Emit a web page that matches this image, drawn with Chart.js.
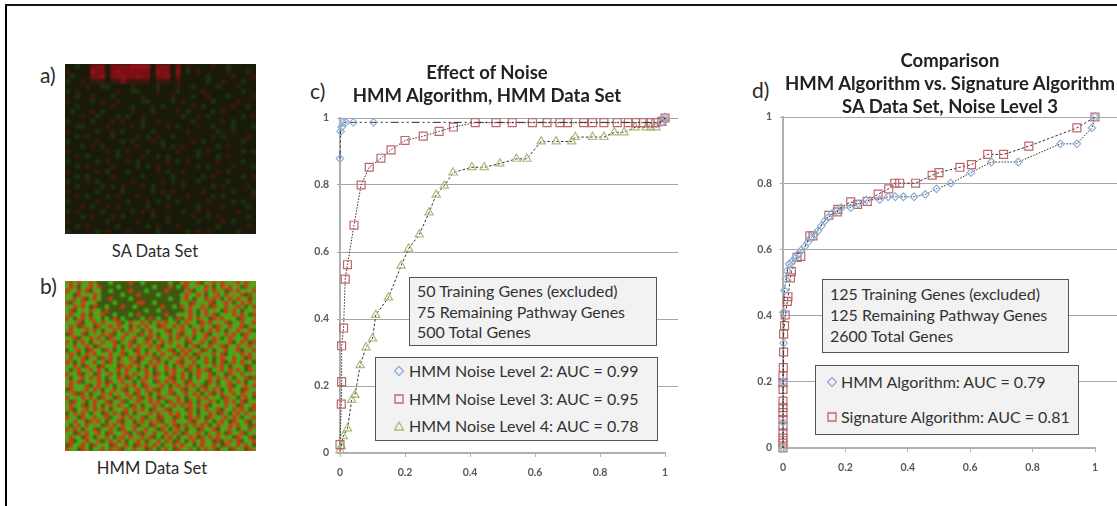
<!DOCTYPE html>
<html>
<head>
<meta charset="utf-8">
<script src="https://cdn.jsdelivr.net/npm/chart.js@4"></script>
<style>
  body { margin: 0; background: #fff; font-family: Lato, sans-serif; color: #2b2b2b; }
  #page { position: relative; width: 1117px; height: 506px; overflow: hidden; }
  #page > * { position: absolute; }
  canvas { display: block; }
  .line-left { left: 5px; top: 4px; width: 2px; height: 502px; background: #000; }
  .line-top { left: 5px; top: 4px; width: 1112px; height: 2px; background: #111; }
  .tag { font-size: 21px; line-height: 20px; }
  .cap { font-size: 16.6px; line-height: 20px; transform: translateX(-50%); white-space: nowrap; }
  .title { font-size: 18.5px; font-weight: 700; text-align: center; white-space: nowrap; transform: translateX(-50%); color: #222; }
  .box { box-sizing: border-box; background: #f2f2f2; border: 1.5px solid #555; }
  .row { position: absolute; white-space: nowrap; font-size: 16px; line-height: 20px; color: #333; }
  .box svg { position: absolute; }
  .heat { width: 191px; height: 170px; overflow: hidden; }
</style>
</head>
<body>
<div id="page">
  <div class="line-left"></div>
  <div class="line-top"></div>

  <div class="tag" style="left:40px;top:65px">a)</div>
  <div class="tag" style="left:40px;top:276px">b)</div>
  <div class="tag" style="left:310px;top:81px">c)</div>
  <div class="tag" style="left:752px;top:80px">d)</div>

  <div class="heat" style="left:65px;top:64px;background:#1a1a0a"><canvas id="heatA" style="filter:blur(1px)"></canvas></div>
  <div class="heat" style="left:65px;top:281px;background:#6f7f18"><canvas id="heatB" style="filter:blur(0.8px)"></canvas></div>
  <div class="cap" style="left:155px;top:241px">SA Data Set</div>
  <div class="cap" style="left:152px;top:458px">HMM Data Set</div>

  <canvas id="chartC" style="left:300px;top:100px"></canvas>
  <canvas id="chartD" style="left:745px;top:100px"></canvas>

  <div class="title" style="left:487px;top:61px;line-height:23px">Effect of Noise<br>HMM Algorithm, HMM Data Set</div>
  <div class="title" style="left:950px;top:49px;line-height:23px">Comparison<br>HMM Algorithm vs. Signature Algorithm<br>SA Data Set, Noise Level 3</div>

  <div class="box" id="infoC" style="left:409px;top:277px;width:248px;height:69px"></div>
  <div class="box" id="legendC" style="left:375px;top:357px;width:283px;height:84px"></div>
  <div class="box" id="infoD" style="left:822px;top:279px;width:247px;height:74px"></div>
  <div class="box" id="legendD" style="left:815px;top:365px;width:264px;height:70px"></div>
</div>

<script>
// ROC values
const noise2X = [0, 0.002, 0.005, 0.01, 0.018, 0.041, 0.103, 0.99, 1];
const noise2Y = [0.879, 0.96, 0.973, 0.987, 0.987, 0.987, 0.987, 0.987, 1];
const noise3X = [0, 0.004, 0.005, 0.005, 0.011, 0.016, 0.023, 0.043, 0.065, 0.09, 0.126, 0.157, 0.2, 0.256, 0.305, 0.349, 0.416, 0.48, 0.53, 0.592, 0.637, 0.677, 0.70, 0.75, 0.777, 0.812, 0.853, 0.887, 0.91, 0.933, 0.954, 0.972, 0.99, 1];
const noise3Y = [0.025, 0.146, 0.213, 0.32, 0.373, 0.519, 0.562, 0.68, 0.80, 0.853, 0.88, 0.905, 0.933, 0.946, 0.96, 0.973, 0.986, 0.986, 0.986, 0.986, 0.986, 0.986, 0.986, 0.986, 0.986, 0.986, 0.986, 0.986, 0.986, 0.986, 0.986, 0.986, 0.99, 1];
const noise4X = [0, 0.004, 0.01, 0.023, 0.036, 0.046, 0.062, 0.08, 0.1, 0.11, 0.149, 0.188, 0.211, 0.244, 0.274, 0.296, 0.321, 0.348, 0.406, 0.444, 0.492, 0.543, 0.575, 0.619, 0.665, 0.713, 0.724, 0.777, 0.812, 0.844, 0.874, 0.908, 0.942, 0.956, 0.972, 0.99, 1];
const noise4Y = [0.008, 0.02, 0.05, 0.073, 0.158, 0.173, 0.262, 0.315, 0.342, 0.412, 0.464, 0.559, 0.61, 0.652, 0.718, 0.771, 0.798, 0.837, 0.853, 0.853, 0.864, 0.878, 0.878, 0.93, 0.93, 0.93, 0.943, 0.943, 0.943, 0.957, 0.957, 0.972, 0.972, 0.972, 0.972, 0.985, 1];

// ROC values
const hmmX = [0, 0, 0.001, 0.002, 0.002, 0.005, 0.009, 0.013, 0.02, 0.027, 0.032, 0.04, 0.048, 0.059, 0.07, 0.08, 0.091, 0.102, 0.112, 0.123, 0.134, 0.146, 0.157, 0.172, 0.187, 0.217, 0.241, 0.267, 0.31, 0.337, 0.36, 0.386, 0.42, 0.456, 0.492, 0.538, 0.602, 0.668, 0.754, 0.889, 0.942, 0.99, 1];
const hmmY = [0, 0.078, 0.2, 0.317, 0.41, 0.476, 0.51, 0.535, 0.556, 0.561, 0.566, 0.576, 0.586, 0.598, 0.609, 0.622, 0.636, 0.646, 0.656, 0.671, 0.686, 0.697, 0.708, 0.717, 0.726, 0.726, 0.738, 0.749, 0.751, 0.759, 0.759, 0.759, 0.759, 0.766, 0.783, 0.8, 0.832, 0.864, 0.864, 0.919, 0.919, 0.967, 1];
const sigX = [0, 0, 0, 0, 0, 0, 0, 0, 0, 0, 0, 0, 0.001, 0.002, 0.002, 0.005, 0.007, 0.014, 0.016, 0.024, 0.027, 0.045, 0.057, 0.086, 0.096, 0.147, 0.174, 0.176, 0.217, 0.239, 0.27, 0.305, 0.339, 0.358, 0.374, 0.425, 0.478, 0.5, 0.567, 0.604, 0.656, 0.707, 0.788, 0.942, 1];
const sigY = [0, 0.015, 0.03, 0.046, 0.066, 0.086, 0.107, 0.122, 0.142, 0.177, 0.197, 0.218, 0.243, 0.29, 0.344, 0.37, 0.402, 0.443, 0.457, 0.514, 0.533, 0.576, 0.579, 0.641, 0.641, 0.703, 0.713, 0.721, 0.744, 0.736, 0.745, 0.767, 0.783, 0.8, 0.8, 0.8, 0.824, 0.832, 0.848, 0.856, 0.887, 0.887, 0.912, 0.967, 1];

const axisTicks = [0, 0.2, 0.4, 0.6, 0.8, 1];
const noiseLabels = ["HMM Noise Level 2: AUC = 0.99", "HMM Noise Level 3: AUC = 0.95", "HMM Noise Level 4: AUC = 0.78"];
const compareLabels = ["HMM Algorithm: AUC = 0.79", "Signature Algorithm: AUC = 0.81"];
const noiseInfo = ["50 Training Genes (excluded)", "75 Remaining Pathway Genes", "500 Total Genes"];
const compareInfo = ["125 Training Genes (excluded)", "125 Remaining Pathway Genes", "2600 Total Genes"];

// expression grids, one letter per cell, top row first
const saRows = [
  "..g..RRR.RRRRMMMM.RRR.R.r....r..g.....",
  "r....MRR.RMRRRRRR.MRR.M.g.r.....r...g.",
  ".g...RRM.RRMRRMRR.RRM.R.....g....r...r",
  "g..r.rrr.rrRrrrrr.rrr.r.....g..r...g..",
  "....r..gg....r....g...r..g....g...r...",
  "g.r.......r..gg...r...g....r.......g..",
  "..g..r...g.....r.....r...g..r...g....r",
  "r....g.r..r....gg....g.r.....g....r...",
  "..g......r...g...r.g.....r.g.....r..g.",
  ".g...r.g.....r...g....r.g....g.r......",
  "...r..g...g.g..r.......g..r.g......g.r",
  "g....g...r.r...g..r......g.....r.g....",
  "..gg....r....r.g....r.g...r..g...g...g",
  "r.....g..r.g.....g......r.....g..r....",
  "..g.r....g....r.g.r..g.......r.g....r.",
  "g.....r....g.g...r.g.....r.g.......g..",
  "...g.r.g......r....g.g.r......g.r.....",
  "r.......r.g.r...g.....r...g.r......g.g",
  "..r.g.....g....r..g.g.....g...g.r.....",
  "g.....g.r...r.g.....r.g.r.....r....g..",
  "..g.r....r....g.g.r.......g.g....r...g",
  "r.....r.g...g.....r.g..r......r.g.....",
  "..g.g....r.....g.....g.....g.r.....g.r",
  "g...r.g......r.....r.g.r..g.....g.....",
  "..g....g.g.r...r.g.....g.....g.r....r.",
  "r.....g....g.....g.r.r.....r.....g...g",
  "..r.g...g.r...r.....g...r....g.g.....r",
  "g.....r.....g...r.g...g.....r....g.g..",
  "...r.g..r.r.....g...r.....g....r....g.",
  "g.r....g.....g.r.r.....g..r.r.....r...",
  "...g.r...r.g.....g..r....r..g.r.....g.",
  "r.......g.....r.....g.....g....r.g....",
  "..g.r.....g.....g.r...r.......g.....r.",
  "g.....g.r...r.....g.....g.r.r.....g..."
];
const hmmRows = [
  "orgrogrokkkgkkkkrkkgkkkkkkgkkorogrkgorgrogorgrog",
  "grokgorgrkkkkgkkkkkkkkgkkkrkgkrgoogrokgrorgokrgo",
  "rogrorkogkkgkkkkrkkkgkkkkrkkkkorkgorgrogkrorgogr",
  "ogkrgogrokkkkkgkkkrkkkkgkkkkkgrogrokgorgrgogrkrg",
  "gorgrkorgkkrkkkkgkkkkkkkkkgkkorgkogrorokgrorgoko",
  "rkogrogokkkkgkkkkkrrkkgkkkkkkgokrgogrkgorokgrorg",
  "ogrorgkrkkgkkkrkkgkkkkkkrkkgkrgrogrokrogrgorokgr",
  "grkgogrogkrkkkkkkkkkgkkgkkkkkkorgkorgogkrorgkogo",
  "orogrokgorkkgkkkgkrkkkkkkrkkgogrokgrorkgogrorgkr",
  "rgkorgrogkgkrkgkkkkgkrkgkkgkrkorgrogkrorgogkrogo",
  "ogorkgorgrogorkgrogrokgrorgokgrogkrorgogrkogrgor",
  "grokrogkrgorgrogkorgrgokrogrorgkogrgokrogrgorkog",
  "orgogrorgkogrokgrogkorgogrkgorogrokgrorgkogrogrk",
  "krogrkgogrorkgorgokrgrokgorgrkogrgorkgogrorgkrog",
  "gorkogrorgkrogrgorogkrgrogkorgrokgorgrokgrogorgo",
  "rgkorgkogrgorkogrkgorokgrorgogkrgorgkrogorkgrokr",
  "ogrgorokrgogrgkorgrogrorkgogrokgrkogrgorkogrgorg",
  "kgorgkrogkrokgrgokrgkogrgorkgrorgokrgkogrgorkogr",
  "orokgrorgogrgorkgorgrokgrogrkorgkrogorgrkgogrorg",
  "grgorkogkrorgkogrokrgorkogrgorgrokgrgkorogrgokro",
  "rokgrgorgokrgrogorkogrgrokgorkogrgorokgrkorgrogk",
  "ogrokrgokrgogkrorgrgkorogrgkorgrokgogrorgkogokrg",
  "gkorgorgrokgorgrogkorgkogrorgokrgrorkgorgrorgkro",
  "rogrkogkrgorgkorgrogrokrgkorgrgkorogrkogkrogrgog",
  "okgorgrorgkogrokrgkorgrogorkgrokgrgorgrorgkogrkr",
  "grorkgogrokrgorgokgrogkrgrorgokrgogkrokgorgrokgo",
  "orgogrkorgrgkogrorgkrogorgkorgrorgrkogrgorkgorgr",
  "krogorgrokgorgrkgorgrorkogrogrkogkorgrokgrogkrog",
  "gorkrgkogrorgogrokrgokgrgorkgorgrokgrkorgorgrogr",
  "rgogrorgkrgokrgorgrkorgkrogorgkogrorgogkrogkorgk",
  "okrgokgrogrkogrkgorogrorgkrgrokrgkogrokgrorgrkog",
  "grogrkorgkorgrogkrgkogrokgorgrorgrorkgogrgokrgor",
  "orkgorgrorgkogorgrorgkrgorkgogkrokgrgorkogrorgkr",
  "kgrorgkogkrgrokrgkogorgrogrorgorgkogrokrgkorgrog",
  "rogkrogrgorkgorgrogrkgokrgokrgkrorgkrogorgrokgor",
  "ogrgokrorgkogrkogkorgrorkgorgogrkogrgkorgkrogrkg",
  "gkorgrgogkrorgrgorkogkrgorgrkorgrorokgrogrorgokr",
  "rorgkogrkogrgkrogrgorgokrgkorgkogkrgorkgorgkogrg",
  "ogkrorgorgkrogorkgrkogrgorgrokrgorgkogrokrgorkgo",
  "grogkrgkogrgkorgrogrorkgkorgkogrokrgrorgogkrogrk",
  "orkgorogrkorgrokgorgkogrgrokrgkorgrogkrkorgrkgor",
  "krgorgkrgogkrgorgkrorgrokgorgrogkorgorgkrogrorgk",
  "rogkrokgorgrorkogrgokrgkorgkrogrgkorgrkogkrgokro"
];

const saColors = { ".": "#1a1a0a", g: "#1c3311", r: "#3a1a0d", R: "#7d0f14", M: "#94101a" };
const hmmColors = { r: "#c63a1a", g: "#30bc1a", o: "#7c8a18", k: "#3f5410" };

function heatmap(id, rows, colors, width, height, cellRadius) {
  const canvas = document.getElementById(id);
  canvas.style.width = width + "px";
  canvas.style.height = height + "px";
  const datasets = Object.keys(colors).map(letter => {
    const cells = [];
    rows.forEach((row, y) => {
      [...row].forEach((c, x) => {
        if (c === letter) cells.push({ x, y });
      });
    });
    return {
      data: cells,
      pointStyle: "rect",
      pointRadius: cellRadius,
      pointBorderWidth: 0,
      pointBackgroundColor: colors[letter],
      clip: 0
    };
  });
  new Chart(canvas, {
    type: "scatter",
    data: { datasets },
    options: {
      responsive: false,
      animation: false,
      layout: { padding: 0, autoPadding: false },
      plugins: { legend: { display: false }, tooltip: { enabled: false } },
      scales: {
        x: { display: false, min: -0.5, max: rows[0].length - 0.5 },
        y: { display: false, min: -0.5, max: rows.length - 0.5, reverse: true }
      }
    }
  });
}

// Excel style gridlines run on past the last x tick
const gridRunoff = {
  id: "gridRunoff",
  beforeDatasetsDraw(chart, args, opts) {
    const { ctx, scales } = chart;
    ctx.save();
    ctx.strokeStyle = "#a6a6a6";
    ctx.lineWidth = 1;
    for (const t of axisTicks.slice(1)) {
      const y = Math.round(scales.y.getPixelForValue(t) - 0.5) + 0.5;
      ctx.beginPath();
      ctx.moveTo(scales.x.right, y);
      ctx.lineTo(scales.x.right + opts.length, y);
      ctx.stroke();
    }
    ctx.restore();
  }
};

function toPoints(xs, ys) {
  return xs.map((x, i) => ({ x, y: ys[i] }));
}

function series(label, xs, ys, style, radius, color, dash) {
  return {
    label,
    data: toPoints(xs, ys),
    showLine: true,
    tension: 0,
    borderColor: "#2e2e2e",
    borderWidth: 1,
    borderDash: dash,
    pointStyle: style,
    pointRadius: radius,
    pointBorderWidth: 1.2,
    pointBorderColor: color,
    pointBackgroundColor: "rgba(0,0,0,0)",
    clip: false
  };
}

function rocChart(id, width, height, datasets, box) {
  const canvas = document.getElementById(id);
  canvas.style.width = width + "px";
  canvas.style.height = height + "px";
  const tickFont = { family: "Lato", size: 10.5, weight: "bold" };
  const tickText = value => String(value);
  new Chart(canvas, {
    type: "scatter",
    data: { datasets },
    plugins: [gridRunoff],
    options: {
      responsive: false,
      animation: false,
      layout: { autoPadding: false, padding: { left: 0, top: box.top, right: box.right, bottom: box.bottom } },
      plugins: {
        legend: { display: false },
        tooltip: { enabled: false },
        gridRunoff: { length: box.runoff }
      },
      scales: {
        x: {
          type: "linear",
          min: 0,
          max: 1,
          afterFit: s => { s.height = 37; },
          afterBuildTicks: s => { s.ticks = axisTicks.map(value => ({ value })); },
          border: { color: "#b0b0b0", width: 2 },
          grid: { drawOnChartArea: false, tickLength: 4, color: "#b0b0b0" },
          ticks: { color: "#595959", font: tickFont, padding: 9, maxRotation: 0, callback: tickText }
        },
        y: {
          min: 0,
          max: 1,
          afterFit: s => { s.width = box.left; },
          afterBuildTicks: s => { s.ticks = axisTicks.map(value => ({ value })); },
          border: { color: "#b0b0b0", width: 2 },
          grid: { color: "#a6a6a6", tickLength: 3 },
          ticks: { color: "#595959", font: tickFont, padding: 8, callback: tickText }
        }
      }
    }
  });
}

function infoBox(id, lines, left, firstY, gap) {
  const box = document.getElementById(id);
  lines.forEach((text, i) => {
    const row = document.createElement("div");
    row.className = "row";
    row.textContent = text;
    row.style.left = left + "px";
    row.style.top = firstY + i * gap + "px";
    box.appendChild(row);
  });
}

const markerPaths = {
  diamond: ["M5 0.5 L9.5 5 L5 9.5 L0.5 5 Z", "#8fb0d6"],
  square: ["M1 1 H9 V9 H1 Z", "#c0666a"],
  triangle: ["M5 1 L9.5 9 H0.5 Z", "#a9bc7a"]
};

function legendBox(id, lines, markers, markerLeft, textLeft, firstY, gap) {
  const box = document.getElementById(id);
  infoBox(id, lines, textLeft, firstY, gap);
  markers.forEach((name, i) => {
    const [path, color] = markerPaths[name];
    const svg = document.createElementNS("http://www.w3.org/2000/svg", "svg");
    svg.setAttribute("width", 10);
    svg.setAttribute("height", 10);
    svg.style.left = markerLeft + "px";
    svg.style.top = firstY + 5 + i * gap + "px";
    const p = document.createElementNS("http://www.w3.org/2000/svg", "path");
    p.setAttribute("d", path);
    p.setAttribute("fill", "none");
    p.setAttribute("stroke", color);
    p.setAttribute("stroke-width", "1.3");
    svg.appendChild(p);
    box.appendChild(svg);
  });
}

heatmap("heatA", saRows, saColors, 191, 170, 3.8);
heatmap("heatB", hmmRows, hmmColors, 191, 170, 3);

rocChart("chartC", 395, 390, [
  series(noiseLabels[0], noise2X, noise2Y, "rectRot", 3.8, "#8fb0d6", [8, 3, 2, 3, 2, 3]),
  series(noiseLabels[1], noise3X, noise3Y, "rect", 5.6, "#c0666a", [1.5, 1.5]),
  series(noiseLabels[2], noise4X, noise4Y, "triangle", 4.8, "#a9bc7a", [2.5, 2])
], { left: 40, top: 18, right: 30, bottom: 0, runoff: 13 });

rocChart("chartD", 372, 390, [
  series(compareLabels[0], hmmX, hmmY, "rectRot", 3.8, "#8fb0d6", [1.5, 1.5]),
  series(compareLabels[1], sigX, sigY, "rect", 5.6, "#c0666a", [2.5, 2])
], { left: 38, top: 17, right: 22, bottom: 5, runoff: 25 });

infoBox("infoC", noiseInfo, 7, 3, 20.5);
infoBox("infoD", compareInfo, 7, 4, 20.8);
legendBox("legendC", noiseLabels, ["diamond", "square", "triangle"], 18, 33, 3, 27.5);
legendBox("legendD", compareLabels, ["diamond", "square"], 11, 25, 6, 35);
</script>
</body>
</html>
